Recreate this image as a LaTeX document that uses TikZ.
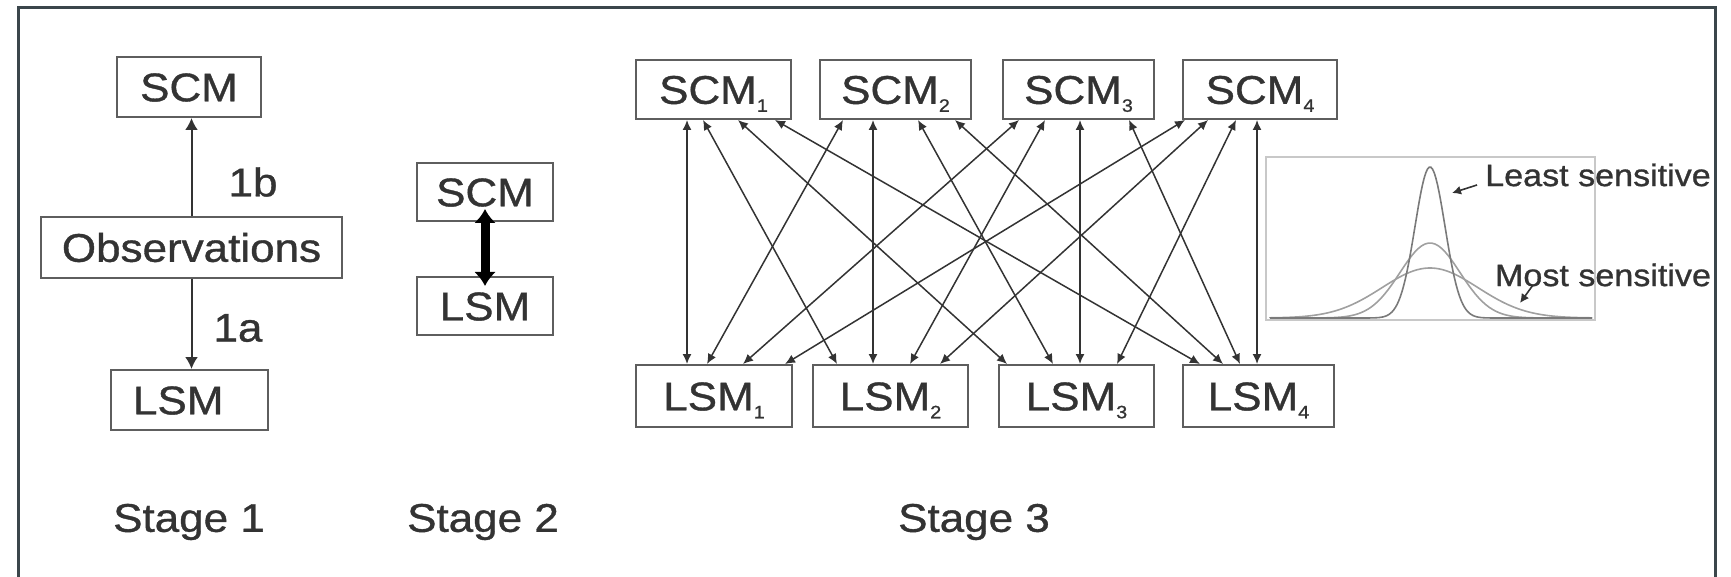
\documentclass[tikz,border=0pt]{standalone}
\usepackage{fontspec}
\setmainfont{Liberation Sans}[FakeStretch=1.1,FakeBold=0.9]
\usetikzlibrary{arrows.meta}
\definecolor{ink}{HTML}{333333}
\definecolor{boxc}{HTML}{5E5E5E}
\definecolor{framec}{HTML}{3B464B}
\definecolor{curvec}{HTML}{7A7A7A}
\definecolor{curvel}{HTML}{A0A0A0}
\definecolor{plotbox}{HTML}{C8C8C8}
\newcommand{\subs}[1]{\raisebox{-8pt}{\fontsize{18}{18}\selectfont #1}}
\begin{document}
\begin{tikzpicture}[x=1pt,y=-1pt,
  box/.style={draw=boxc,line width=2pt,minimum height=60pt,inner sep=0pt,
    text=ink,font=\fontsize{40}{40}\selectfont,text height=28.6pt,text depth=0pt},
  lbl/.style={text=ink,inner sep=0pt,font=\fontsize{40}{40}\selectfont},
  arr/.style={draw=ink,line width=2pt,-{Latex[length=12pt,width=13pt]}},
  dbl/.style={draw=ink,line width=1.5pt,{Latex[length=10pt,width=9pt]}-{Latex[length=10pt,width=9pt]}},
  thick2/.style={draw=black,line width=9pt,{Latex[length=14pt,width=22pt]}-{Latex[length=14pt,width=22pt]}},
  curve/.style={line width=1.6pt},
  side/.style={text=ink,inner sep=0pt,font=\fontsize{31}{31}\selectfont},
  sidearr/.style={draw=ink,line width=1.6pt,-{Latex[length=9pt,width=9pt]}}
]
\useasboundingbox (0,0) rectangle (1731,577);
% frame
\draw[framec,line width=3pt] (18,577) -- (18,8) -- (1715,8) -- (1715,577);

% Stage 1
\node[box,minimum width=144pt] (s1scm) at (189,87) {SCM};
\node[box,minimum width=301pt] (obs) at (191.5,247.5) {Observations};
\node[box,minimum width=157pt,text width=113pt,align=left,inner xsep=22pt] (s1lsm) at (189.5,400) {LSM};
\draw[arr] (obs.north) -- (obs.north |- s1scm.south);
\draw[arr] (obs.south) -- (obs.south |- s1lsm.north);
\node[lbl] (l1b) at (253,182) {1b};
\node[lbl] (l1a) at (238,328) {1a};
\node[lbl] (st1) at (189,522) {Stage 1};

% Stage 2
\node[box,minimum width=136pt,minimum height=58pt] (s2scm) at (485,192) {SCM};
\node[box,minimum width=136pt,minimum height=58pt] (s2lsm) at (485,306) {LSM};
\draw[thick2] ([yshift=13pt]s2scm.south) -- ([yshift=-10pt]s2lsm.north);
\node[lbl] (st2) at (483,522) {Stage 2};

% Stage 3
\node[box,minimum width=155pt,minimum height=59pt] (S1) at (713.5,89.5) {SCM\subs{1}};
\node[box,minimum width=151pt,minimum height=59pt] (S2) at (895.5,89.5) {SCM\subs{2}};
\node[box,minimum width=151pt,minimum height=59pt] (S3) at (1078.5,89.5) {SCM\subs{3}};
\node[box,minimum width=154pt,minimum height=59pt] (S4) at (1260,89.5) {SCM\subs{4}};
\node[box,minimum width=156pt,minimum height=62pt] (L1) at (714,396) {LSM\subs{1}};
\node[box,minimum width=155pt,minimum height=62pt] (L2) at (890.5,396) {LSM\subs{2}};
\node[box,minimum width=155pt,minimum height=62pt] (L3) at (1076.5,396) {LSM\subs{3}};
\node[box,minimum width=151pt,minimum height=62pt] (L4) at (1258.5,396) {LSM\subs{4}};

% SCM1
\draw[dbl] ([xshift=-26.5pt]S1.south) -- ([xshift=-27pt]L1.north);
\draw[dbl] ([xshift=-10.5pt]S1.south) -- ([xshift=-53.5pt]L2.north);
\draw[dbl] ([xshift=24.5pt]S1.south) -- ([xshift=-69.5pt]L3.north);
\draw[dbl] ([xshift=61.5pt]S1.south) -- ([xshift=-58.5pt]L4.north);
% SCM2
\draw[dbl] ([xshift=-52.5pt]S2.south) -- ([xshift=-7pt]L1.north);
\draw[dbl] ([xshift=-22.5pt]S2.south) -- ([xshift=-17.5pt]L2.north);
\draw[dbl] ([xshift=22.5pt]S2.south) -- ([xshift=-23.5pt]L3.north);
\draw[dbl] ([xshift=59.5pt]S2.south) -- ([xshift=-35.5pt]L4.north);
% SCM3
\draw[dbl] ([xshift=-59.5pt]S3.south) -- ([xshift=29pt]L1.north);
\draw[dbl] ([xshift=-33.5pt]S3.south) -- ([xshift=19.5pt]L2.north);
\draw[dbl] ([xshift=1.5pt]S3.south) -- ([xshift=3.5pt]L3.north);
\draw[dbl] ([xshift=50.5pt]S3.south) -- ([xshift=-18.5pt]L4.north);
% SCM4
\draw[dbl] ([xshift=-75pt]S4.south) -- ([xshift=71pt]L1.north);
\draw[dbl] ([xshift=-52pt]S4.south) -- ([xshift=49.5pt]L2.north);
\draw[dbl] ([xshift=-24pt]S4.south) -- ([xshift=40.5pt]L3.north);
\draw[dbl] ([xshift=-3pt]S4.south) -- ([xshift=-1.5pt]L4.north);

\node[lbl] (st3) at (974,522) {Stage 3};

% sensitivity plot
\draw[plotbox,line width=1.5pt] (1266,157) rectangle (1595,320);
\draw[curve,curvel] (1270,318) -- plot[domain=-160:160,samples=90] ({1430+\x},{318-50*exp(-0.5*(\x/48)*(\x/48))}) -- (1592,318);
\draw[curve,curvel] (1270,318) -- plot[domain=-150:150,samples=90] ({1430+\x},{318-75*exp(-0.5*(\x/30)*(\x/30))}) -- (1592,318);
\draw[curve,curvec] (1270,318) -- plot[domain=-75:75,samples=90] ({1430+\x},{318-151*exp(-0.5*(\x/15)*(\x/15))}) -- (1592,318);

\node[side] (least) at (1598,175) {Least sensitive};
\node[side] (most) at (1603,275) {Most sensitive};
\coordinate (lt) at (1452,193);
\coordinate (mt) at (1520,303);
\draw[sidearr] ([xshift=-121pt,yshift=-10pt]least.center) -- (lt);
\draw[sidearr] ([xshift=-70pt,yshift=-10pt]most.center) -- (mt);
\end{tikzpicture}
\end{document}
